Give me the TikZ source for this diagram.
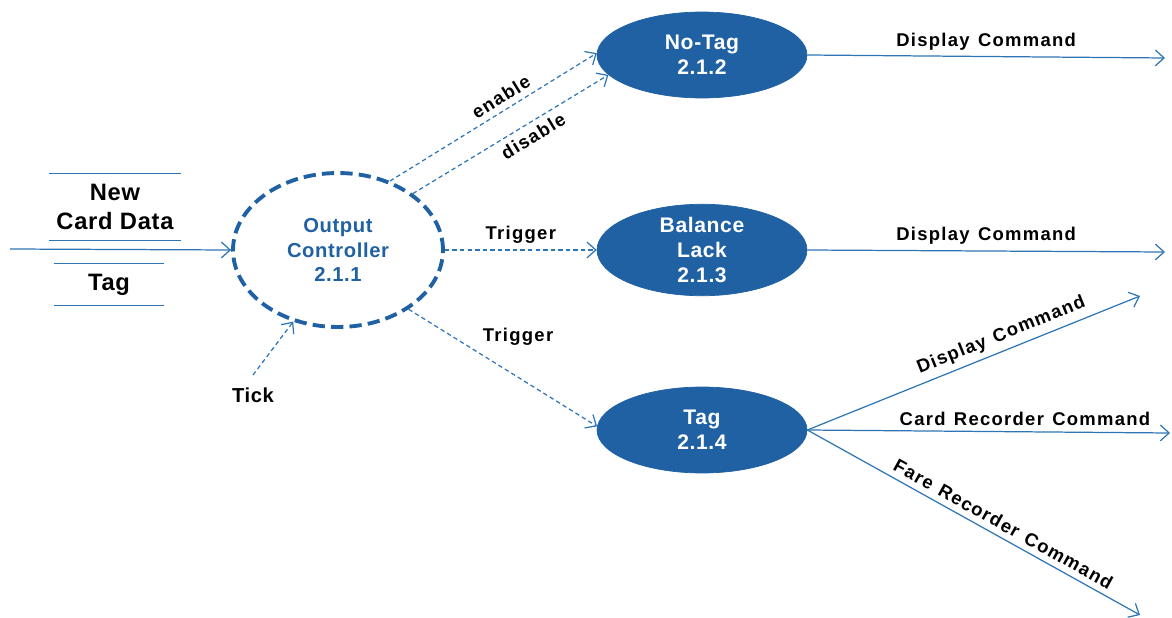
\documentclass[tikz,border=0pt]{standalone}
\usepackage{fontspec}
\setmainfont[LetterSpace=3]{Liberation Sans}
\newfontfamily\flowfont[LetterSpace=7,WordSpace=1.3]{Liberation Sans}
\usetikzlibrary{arrows.meta}
\usetikzlibrary{shapes.geometric}
\definecolor{flowblue}{RGB}{46,117,182}
\definecolor{procblue}{RGB}{31,97,163}

\begin{document}
\begin{tikzpicture}[x=0.02cm, y=-0.02cm,
	flow/.style={flowblue, line width=0.7pt, -{Straight Barb[length=5pt,width=9pt]}},
	ctrl/.style={flow, dash pattern=on 2.5pt off 1.8pt},
	proc/.style={ellipse, fill=procblue, draw=procblue, text=white, minimum width=4.2cm, minimum height=1.72cm, align=center, inner sep=0pt, font=\bfseries\fontsize{12}{14}\selectfont},
	store/.style={minimum height=1.34cm, align=center, inner sep=0pt, font=\bfseries\fontsize{13.5}{16}\selectfont},
	lbl/.style={font=\flowfont\bfseries\fontsize{10.5}{12}\selectfont, text=black}]
	\useasboundingbox (0,0) rectangle (1172,618);

	\node[ellipse, draw=procblue, line width=2.2pt, dash pattern=on 7pt off 3.5pt, minimum width=4.2cm, minimum height=3.08cm, text=procblue, align=center, font=\bfseries\fontsize{11.5}{14}\selectfont] (ctrl) at (338,250) {Output\\Controller\\2.1.1};

	\node[proc] (notag) at (702,55) {No-Tag\\2.1.2};
	\node[proc] (lack) at (702,250) {Balance\\Lack\\2.1.3};
	\node[proc] (tag) at (702,430) {Tag\\2.1.4};

	\node[store, minimum width=2.62cm] (newcard) at (115,207) {New\\Card Data};
	\node[store, minimum width=2.2cm, minimum height=0.82cm] (tagstore) at (109,284.5) {Tag};
	\draw[flowblue, line width=0.7pt] (newcard.north west) -- (newcard.north east) (newcard.south west) -- (newcard.south east);
	\draw[flowblue, line width=0.7pt] (tagstore.north west) -- (tagstore.north east) (tagstore.south west) -- (tagstore.south east);

	\node[lbl, font=\bfseries\fontsize{11.5}{14}\selectfont] (tick) at (253,395) {Tick};

	\coordinate (in) at (10,249);
	\coordinate (tickstart) at (253,375);
	\coordinate (out1) at (1165,58);
	\coordinate (out2) at (1165,252);
	\coordinate (out3) at (1140,296);
	\coordinate (out4) at (1170,433);
	\coordinate (out5) at (1140,615);

	\draw[flow] (in) -- (ctrl.west);
	\draw[ctrl] (tickstart) -- (ctrl.238);

	\draw[ctrl] (ctrl.53) -- node[lbl, pos=0.57, above, sloped] {enable} (notag.179);
	\draw[ctrl] (ctrl.37) -- node[lbl, pos=0.58, below, sloped] {disable} (notag.192);
	\draw[ctrl] (ctrl.east) -- node[lbl, midway, above] {Trigger} (lack.west);
	\draw[ctrl] (ctrl.320) -- node[lbl, pos=0.36, above right] {Trigger} (tag.178);

	\draw[flow] (notag.east) -- node[lbl, midway, above] {Display Command} (out1);
	\draw[flow] (lack.east) -- node[lbl, midway, above] {Display Command} (out2);
	\draw[flow] (tag.east) -- node[lbl, pos=0.6, above, sloped] {Display Command} (out3);
	\draw[flow] (tag.east) -- node[lbl, pos=0.6, above] {Card Recorder Command} (out4);
	\draw[flow] (tag.east) -- node[lbl, pos=0.57, above, sloped] {Fare Recorder Command} (out5);
\end{tikzpicture}
\end{document}
